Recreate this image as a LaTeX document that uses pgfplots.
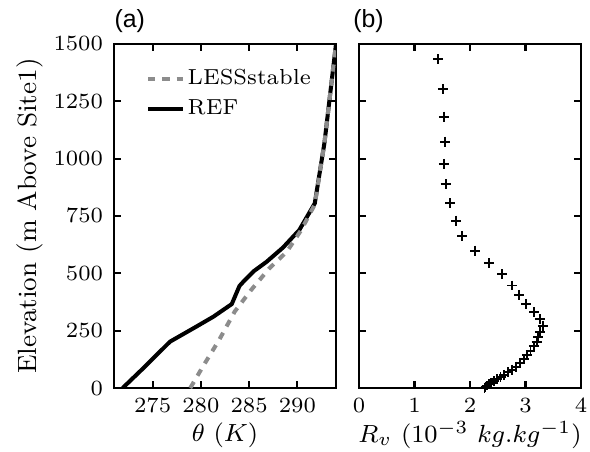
\documentclass[border=0pt]{standalone}
\usepackage{fontspec}
\newfontfamily\helv{Liberation Sans}
\usepackage{pgfplots}
\pgfplotsset{compat=1.18}
\definecolor{lessgray}{RGB}{140,140,140}
\pgfplotstableread{
th z
271.9 0
274.0 85
276.8 202
279.5 267
281.3 311
283.2 366
284.0 445
284.5 468
285.5 510
286.8 550
288.5 612
290.2 689
291.8 805
292.8 1068
294.0 1500
}\refdata
\pgfplotstableread{
th z
278.9 0
280.3 100
281.9 210
283.5 333
285.2 427
287.1 522
288.9 594
290.4 689
291.8 800
292.8 1068
294.0 1500
}\lessdata
\pgfplotstableread{
rv z
1.43 1433
1.51 1304
1.53 1183
1.55 1074
1.53 977
1.56 888
1.64 805
1.75 730
1.86 663
2.09 599
2.34 544
2.58 496
2.76 447
2.89 406
3.01 367
3.16 330
3.26 300
3.31 272
3.26 246
3.23 224
3.20 202
3.15 182
3.09 162
3.03 143
2.97 125
2.90 108
2.83 93
2.76 80
2.69 68
2.62 57
2.55 47
2.49 38
2.43 30
2.38 23
2.34 17
2.30 11
2.28 6
2.26 2
}\rvdata
\begin{document}
\begin{tikzpicture}
\useasboundingbox (-36.71pt,-20.29pt) rectangle ++(190pt,145.24pt);
\pgfplotsset{
  every axis/.append style={
    scale only axis,
    width=71.5pt, height=110.8pt,
    clip mode=individual,
    ymin=0, ymax=1500,
    ytick={0,250,500,750,1000,1250,1500},
    tick align=inside,
    major tick length=2.3pt,
    axis line style={line width=0.7pt},
    every tick/.style={line width=0.7pt, black},
    tick label style={font=\fontsize{7.4}{8.5}\selectfont},
    xlabel style={font=\fontsize{8}{9}\selectfont, at={(axis description cs:0.5,-0.1363)}, anchor=center},
    /pgf/number format/1000 sep={},
    scaled ticks=false,
    xtick pos=both, ytick pos=both,
  },
}
\begin{axis}[
  name=A,
  at={(0,0)}, anchor=south west,
  xmin=271, xmax=294,
  xtick={275,280,285,290},
  xlabel={$\theta\ (K)$},
  ylabel={Elevation (m Above Site1)},
  ylabel style={font=\fontsize{8.5}{10}\selectfont, at={(axis description cs:-0.379,0.5)}, anchor=center, rotate=0},
  reverse legend,
  legend style={at={(0.1,0.955)}, anchor=north west, draw=none, fill=none,
    font=\fontsize{7}{8}\selectfont, row sep=1.2pt,
    nodes={inner sep=1pt}},
  legend cell align=left,
  legend image code/.code={\draw[#1] (0cm,0cm) -- (0.39cm,0cm);},
]
\addplot[black, line width=1.3pt] table[x=th, y=z] {\refdata};
\addlegendentry{REF}
\addplot[lessgray, line width=1.3pt, dash pattern=on 2.3pt off 2.3pt] table[x=th, y=z] {\lessdata};
\addlegendentry{LESSstable}
\node[anchor=south west, inner sep=0pt, font=\helv\fontsize{8}{9}\selectfont] at (rel axis cs:0,1) [yshift=3.6pt] {(a)};
\end{axis}
\begin{axis}[
  name=B,
  at={(78.9pt,0)}, anchor=south west,
  xmin=0, xmax=4,
  xtick={0,1,2,3,4},
  yticklabels={},
  xlabel={$R_v\ (10^{-3}\ kg.kg^{-1})$},
]
\addplot[only marks, mark=+, mark size=1.6pt, black, mark options={line width=0.6pt}] table[x=rv, y=z] {\rvdata};
\node[anchor=south west, inner sep=0pt, font=\helv\fontsize{8}{9}\selectfont] at (rel axis cs:0,1) [xshift=-2pt, yshift=3.6pt] {(b)};
\end{axis}
\end{tikzpicture}
\end{document}
